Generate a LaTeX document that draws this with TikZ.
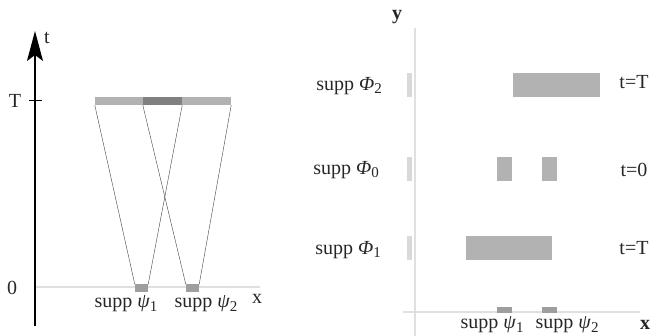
\documentclass[tikz,border=0pt]{standalone}
\usepackage{fontspec}
\setmainfont{Liberation Serif}
\usepackage{xcolor}
\usetikzlibrary{arrows.meta, positioning}

\newcommand{\suppof}[2]{supp \textit{#1}\raisebox{-0.16em}{\fontsize{15}{15}\selectfont #2}}

\begin{document}
\begin{tikzpicture}[
  x=1pt, y=-1pt,
  >=Stealth,
  lbl/.style={font=\fontsize{20}{22}\selectfont, text=black!85, inner sep=0pt},
  lightaxis/.style={draw=black!12, line width=1.6pt},
  supbar/.style={fill=black!30, inner sep=0pt, minimum height=8pt},
  darkbar/.style={fill=black!50, inner sep=0pt, minimum height=8pt},
  tickbox/.style={fill=black!15, inner sep=0pt, minimum width=5pt, minimum height=24pt},
  seg/.style={fill=black!38, inner sep=0pt, minimum width=13pt, minimum height=7pt},
  ray/.style={draw=black!75, line width=0.4pt},
]
\useasboundingbox (0,0) rectangle (655,336);

% left panel: time axis
\coordinate (tbot) at (35,326);
\coordinate (ttop) at (35,31);
\coordinate (xend) at (260,287);
\draw[lightaxis] (tbot |- xend) -- (xend);
\draw[line width=1.3pt, -{Stealth[length=30pt, width=16pt, inset=6pt]}] (tbot) -- (ttop);
\node[lbl] (tlab) at (47,38) {t};
\coordinate (tickl) at (29,100);
\coordinate (tickr) at (42,100);
\draw[line width=0.8pt] (tickl) -- (tickr);
\node[lbl] (Tlab) at (15,101) {T};
\node[lbl] (zlab) at (12,288) {0};
\node[lbl] (xlab) at (257,299) {x};

% supports at t=T
\node[supbar, minimum width=48pt] (barl) at (119,101) {};
\node[darkbar, minimum width=39pt] (bard) at (162.5,101) {};
\node[supbar, minimum width=49pt] (barr) at (206.5,101) {};

% supports at t=0
\node[seg] (psi1) at (141.5,288) {};
\node[seg] (psi2) at (192.5,288) {};
\node[lbl] (psi1lab) at (126,304) {\suppof{ψ}{1}};
\node[lbl] (psi2lab) at (206,304) {\suppof{ψ}{2}};

% light cones
\draw[ray] (barl.south west) -- (psi1.north west);
\draw[ray] (bard.south west) -- (psi2.north west);
\draw[ray] (bard.south east) -- (psi1.north east);
\draw[ray] (barr.south east) -- (psi2.north east);

% right panel: axes
\coordinate (ybot) at (415,336);
\coordinate (ytop) at (415,28);
\coordinate (xl) at (403,312);
\coordinate (xr) at (640,312);
\draw[lightaxis] (ybot) -- (ytop);
\draw[lightaxis] (xl) -- (xr);
\node[lbl, font=\fontsize{20}{22}\selectfont\bfseries] (ylab) at (397,17) {y};
\node[lbl, font=\fontsize{20}{22}\selectfont\bfseries] (xlab2) at (645,325) {x};

% markers on the y axis
\node[tickbox] (m2) at (409.5,85) {};
\node[tickbox] (m0) at (409.5,169) {};
\node[tickbox] (m1) at (409.5,248) {};

% supports in x
\node[supbar, minimum width=87pt, minimum height=24pt] (phi2) at (556.5,85) {};
\node[supbar, minimum width=15pt, minimum height=24pt] (phi0a) at (504.5,169) {};
\node[supbar, minimum width=15pt, minimum height=24pt] (phi0b) at (549.5,169) {};
\node[supbar, minimum width=86pt, minimum height=24pt] (phi1) at (509,248.5) {};
\node[seg, minimum width=15pt, minimum height=6pt] (rpsi1) at (504.5,310) {};
\node[seg, minimum width=15pt, minimum height=6pt] (rpsi2) at (549.5,310) {};

% labels
\node[lbl] (phi2lab) at (349,86) {\suppof{Φ}{2}};
\node[lbl] (phi0lab) at (346,170) {\suppof{Φ}{0}};
\node[lbl] (phi1lab) at (348,250) {\suppof{Φ}{1}};
\node[lbl] (t2lab) at (634,82) {t=T};
\node[lbl] (t0lab) at (634,170) {t=0};
\node[lbl] (t1lab) at (634,248) {t=T};
\node[lbl] (rpsi1lab) at (492,325) {\suppof{ψ}{1}};
\node[lbl] (rpsi2lab) at (567,325) {\suppof{ψ}{2}};

\end{tikzpicture}
\end{document}
